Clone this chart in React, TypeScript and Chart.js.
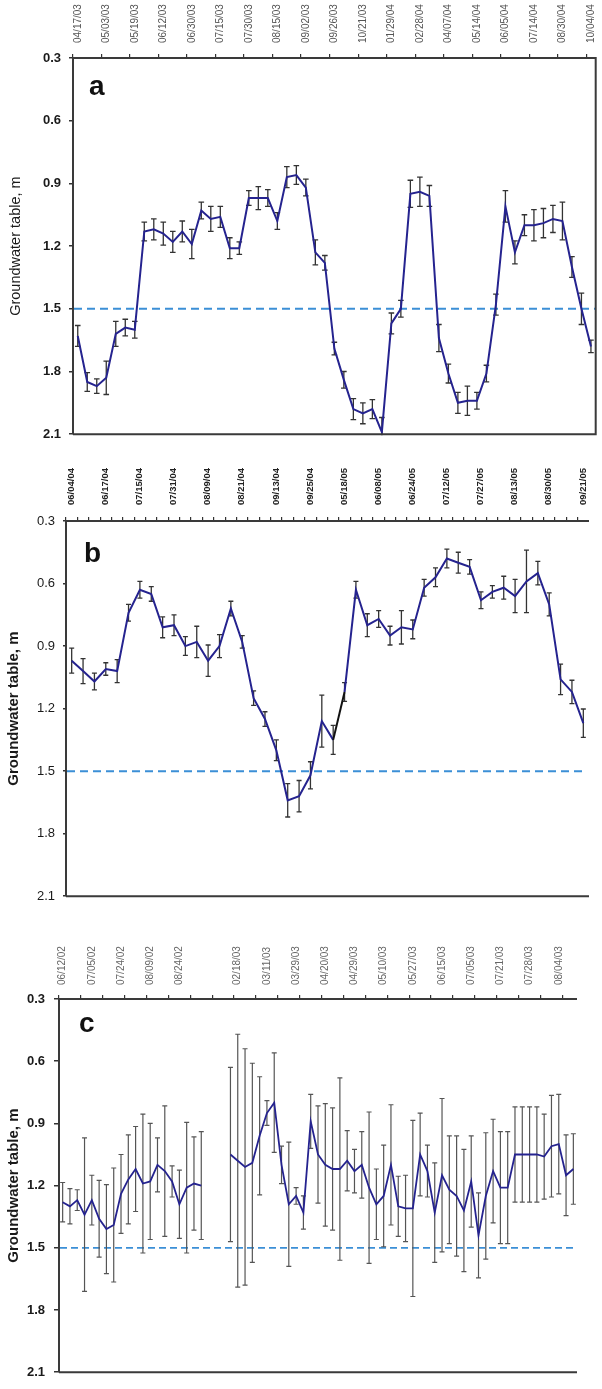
import React, { useEffect, useRef } from 'react';
import { Chart, registerables } from 'chart.js';
Chart.register(...registerables);

// ---------- Panel a ----------
const tickLabelsA = ['04/17/03', '05/03/03', '05/19/03', '06/12/03', '06/30/03', '07/15/03', '07/30/03', '08/15/03', '09/02/03', '09/26/03', '10/21/03', '01/29/04', '02/28/04', '04/07/04', '05/14/04', '06/05/04', '07/14/04', '08/30/04', '10/04/04'];
const depthA = [1.63, 1.85, 1.87, 1.83, 1.62, 1.59, 1.60, 1.13, 1.12, 1.14, 1.18, 1.13, 1.19, 1.03, 1.07, 1.06, 1.21, 1.21, 0.97, 0.97, 0.97, 1.08, 0.87, 0.86, 0.92, 1.23, 1.28, 1.69, 1.84, 1.98, 2.00, 1.98, 2.09, 1.57, 1.50, 0.95, 0.94, 0.96, 1.64, 1.81, 1.95, 1.94, 1.94, 1.81, 1.48, 1.01, 1.23, 1.10, 1.10, 1.09, 1.07, 1.08, 1.30, 1.50, 1.68];
const errA = [0.05, 0.045, 0.035, 0.08, 0.06, 0.04, 0.04, 0.045, 0.05, 0.055, 0.05, 0.05, 0.07, 0.04, 0.06, 0.05, 0.05, 0.03, 0.035, 0.055, 0.04, 0.04, 0.05, 0.045, 0.04, 0.06, 0.035, 0.03, 0.04, 0.05, 0.05, 0.045, 0.07, 0.05, 0.04, 0.065, 0.07, 0.05, 0.065, 0.045, 0.05, 0.07, 0.04, 0.04, 0.05, 0.075, 0.055, 0.05, 0.075, 0.07, 0.065, 0.09, 0.05, 0.075, 0.03];

// ---------- Panel b ----------
const tickLabelsB = ['06/04/04', '06/17/04', '07/15/04', '07/31/04', '08/09/04', '08/21/04', '09/13/04', '09/25/04', '05/18/05', '06/08/05', '06/24/05', '07/12/05', '07/27/05', '08/13/05', '08/30/05', '09/21/05'];
const depthB = [0.97, 1.02, 1.07, 1.01, 1.02, 0.74, 0.63, 0.65, 0.81, 0.80, 0.90, 0.88, 0.97, 0.90, 0.72, 0.88, 1.15, 1.25, 1.40, 1.64, 1.62, 1.52, 1.26, 1.35, 1.12, 0.63, 0.80, 0.77, 0.85, 0.81, 0.82, 0.62, 0.57, 0.48, 0.50, 0.52, 0.68, 0.64, 0.62, 0.66, 0.59, 0.55, 0.70, 1.06, 1.12, 1.27];
const errB = [0.06, 0.06, 0.04, 0.03, 0.055, 0.04, 0.04, 0.035, 0.05, 0.05, 0.045, 0.075, 0.075, 0.055, 0.035, 0.03, 0.035, 0.035, 0.05, 0.08, 0.075, 0.065, 0.125, 0.07, 0.045, 0.04, 0.055, 0.04, 0.045, 0.08, 0.045, 0.04, 0.045, 0.045, 0.05, 0.035, 0.04, 0.03, 0.055, 0.08, 0.15, 0.056, 0.055, 0.073, 0.056, 0.068];
const blackSegmentStartB = 23;

// ---------- Panel c ----------
const tickLabelsC = ['06/12/02', '07/05/02', '07/24/02', '08/09/02', '08/24/02', '', '02/18/03', '03/11/03', '03/29/03', '04/20/03', '04/29/03', '05/10/03', '05/27/03', '06/15/03', '07/05/03', '07/21/03', '07/28/03', '08/04/03'];
const depthC = [1.28, 1.30, 1.27, 1.34, 1.27, 1.36, 1.41, 1.39, 1.24, 1.17, 1.12, 1.19, 1.18, 1.10, 1.13, 1.18, 1.29, 1.21, 1.19, 1.20,
  null, null, null,
  1.05, 1.08, 1.11, 1.09, 0.96, 0.85, 0.80, 1.10, 1.29, 1.25, 1.33, 0.89, 1.05, 1.10, 1.12, 1.12, 1.08, 1.13, 1.10, 1.21, 1.29, 1.25, 1.10, 1.30, 1.31, 1.31, 1.05, 1.13, 1.33, 1.15, 1.22, 1.25, 1.32, 1.18, 1.44, 1.25, 1.13, 1.21, 1.21, 1.05, 1.05, 1.05, 1.05, 1.06, 1.01, 1.00, 1.15, 1.12];
const errC = [0.095, 0.085, 0.05, 0.37, 0.12, 0.185, 0.215, 0.275, 0.19, 0.215, 0.205, 0.335, 0.28, 0.13, 0.315, 0.075, 0.165, 0.315, 0.225, 0.26,
  null, null, null,
  0.42, 0.61, 0.57, 0.48, 0.285, 0.06, 0.24, 0.09, 0.30, 0.04, 0.08, 0.13, 0.235, 0.295, 0.295, 0.44, 0.145, 0.105, 0.16, 0.365, 0.17, 0.245, 0.29, 0.145, 0.16, 0.425, 0.20, 0.125, 0.24, 0.37, 0.26, 0.29, 0.295, 0.22, 0.205, 0.305, 0.25, 0.27, 0.27, 0.23, 0.23, 0.23, 0.23, 0.205, 0.245, 0.24, 0.195, 0.17];

// ---------- shared ----------
const yTickValues = [0.3, 0.6, 0.9, 1.2, 1.5, 1.8, 2.1];
const threshold = 1.5;
const yTitle = 'Groundwater table, m';

const FONT = '"Liberation Sans", Arial, Helvetica, sans-serif';
const NAVY = '#25238f';

type Spec = {
  letter: string;
  values: (number | null)[];
  errors: (number | null)[];
  tickLabels: string[];
  labelEvery: number;
  tickEvery: number;
  canvasTop: number;
  height: number;
  left: number;
  top: number;
  padRight: number;
  padBottom: number;
  rightBorder: boolean;
  dashEndInset: number;
  dashWidth: number;
  dash: number[];
  xFont: { size: number; weight: string };
  xColor: string;
  xPad: number;
  yFont: { size: number; weight: string };
  yTickLen: number;
  yPad: number;
  titleFont: { size: number; weight: string };
  titlePad: number;
  letterDx: number;
  letterDy: number;
  errColor: string;
  errWidth: number;
  cap: number;
  lineWidth: number;
  blackSeg?: number;
};

const specs: Spec[] = [
  {
    letter: 'a', values: depthA, errors: errA, tickLabels: tickLabelsA, labelEvery: 3, tickEvery: 3,
    canvasTop: 0, height: 450, left: 73, top: 58, padRight: 6, padBottom: 12, rightBorder: true,
    dashEndInset: 0, dashWidth: 2, dash: [8, 5],
    xFont: { size: 10, weight: 'normal' }, xColor: '#555', xPad: 11,
    yFont: { size: 13, weight: 'bold' }, yTickLen: 4, yPad: 8,
    titleFont: { size: 14.5, weight: 'normal' }, titlePad: 7,
    letterDx: 16, letterDy: 37, errColor: '#333', errWidth: 1.3, cap: 2.8, lineWidth: 2,
  },
  {
    letter: 'b', values: depthB, errors: errB, tickLabels: tickLabelsB, labelEvery: 3, tickEvery: 1,
    canvasTop: 450, height: 462, left: 66, top: 71, padRight: 13, padBottom: 10, rightBorder: false,
    dashEndInset: 7, dashWidth: 2, dash: [8, 5],
    xFont: { size: 9.5, weight: 'bold' }, xColor: '#222', xPad: 12,
    yFont: { size: 13, weight: 'normal' }, yTickLen: 3, yPad: 8,
    titleFont: { size: 15, weight: 'bold' }, titlePad: 5,
    letterDx: 18, letterDy: 41, errColor: '#333', errWidth: 1.3, cap: 2.5, lineWidth: 2,
    blackSeg: blackSegmentStartB,
  },
  {
    letter: 'c', values: depthC, errors: errC, tickLabels: tickLabelsC, labelEvery: 4, tickEvery: 3,
    canvasTop: 912, height: 477, left: 59, top: 87, padRight: 25, padBottom: 9, rightBorder: false,
    dashEndInset: 3, dashWidth: 1.8, dash: [7, 4],
    xFont: { size: 10, weight: 'normal' }, xColor: '#666', xPad: 10,
    yFont: { size: 13, weight: 'bold' }, yTickLen: 5, yPad: 9,
    titleFont: { size: 15, weight: 'bold' }, titlePad: 5,
    letterDx: 20, letterDy: 33, errColor: '#555', errWidth: 1.2, cap: 2.5, lineWidth: 1.8,
  },
];

function makeDecor(spec: Spec) {
  return {
    id: 'panelDecor',
    beforeDatasetsDraw(chart: any) {
      const { ctx, chartArea: ca, scales } = chart;
      const x = scales.x;
      const y = scales.y;
      // threshold line
      const ty = y.getPixelForValue(threshold);
      ctx.save();
      ctx.strokeStyle = '#3b8fd6';
      ctx.lineWidth = spec.dashWidth;
      ctx.setLineDash(spec.dash);
      ctx.beginPath();
      ctx.moveTo(ca.left + 1, ty);
      ctx.lineTo(ca.right - spec.dashEndInset, ty);
      ctx.stroke();
      ctx.restore();
      // error bars
      ctx.save();
      ctx.beginPath();
      ctx.rect(ca.left, ca.top, ca.right - ca.left, ca.bottom - ca.top + 1);
      ctx.clip();
      ctx.strokeStyle = spec.errColor;
      ctx.lineWidth = spec.errWidth;
      spec.values.forEach((v, i) => {
        const e = spec.errors[i];
        if (v == null || e == null) return;
        const px = x.getPixelForValue(i);
        const y1 = y.getPixelForValue(v - e);
        const y2 = y.getPixelForValue(v + e);
        ctx.beginPath();
        ctx.moveTo(px, y1);
        ctx.lineTo(px, y2);
        ctx.moveTo(px - spec.cap, y1);
        ctx.lineTo(px + spec.cap, y1);
        ctx.moveTo(px - spec.cap, y2);
        ctx.lineTo(px + spec.cap, y2);
        ctx.stroke();
      });
      ctx.restore();
    },
    afterDraw(chart: any) {
      const { ctx, chartArea: ca } = chart;
      ctx.save();
      ctx.strokeStyle = '#3a3a3a';
      ctx.lineWidth = 2;
      ctx.beginPath();
      ctx.moveTo(ca.left, ca.bottom);
      ctx.lineTo(ca.left, ca.top);
      ctx.lineTo(ca.right, ca.top);
      if (spec.rightBorder) {
        ctx.lineTo(ca.right, ca.bottom);
        ctx.lineTo(ca.left, ca.bottom);
      } else {
        ctx.moveTo(ca.left, ca.bottom);
        ctx.lineTo(ca.right, ca.bottom);
      }
      ctx.stroke();
      ctx.fillStyle = '#111';
      ctx.font = `bold 28px ${FONT}`;
      ctx.textAlign = 'left';
      ctx.textBaseline = 'alphabetic';
      ctx.fillText(spec.letter, ca.left + spec.letterDx, ca.top + spec.letterDy);
      ctx.restore();
    },
  };
}

function makeConfig(spec: Spec): any {
  const labels = spec.values.map((_, i) => String(i));
  return {
    type: 'line',
    data: {
      labels,
      datasets: [
        {
          data: spec.values,
          borderColor: NAVY,
          borderWidth: spec.lineWidth,
          pointRadius: 0,
          tension: 0,
          spanGaps: false,
          segment: spec.blackSeg != null
            ? { borderColor: (c: any) => (c.p0DataIndex === spec.blackSeg ? '#111' : undefined) }
            : undefined,
        },
      ],
    },
    options: {
      animation: false,
      responsive: false,
      maintainAspectRatio: false,
      events: [],
      layout: { padding: { left: 0, top: 0, right: spec.padRight, bottom: spec.padBottom } },
      plugins: { legend: { display: false }, tooltip: { enabled: false }, title: { display: false } },
      scales: {
        x: {
          type: 'category',
          position: 'top',
          offset: true,
          border: { display: false },
          grid: {
            offset: true,
            drawOnChartArea: false,
            drawTicks: true,
            tickLength: 4,
            lineWidth: 1.2,
            color: (c: any) => (typeof c.index === 'number' && c.index % spec.tickEvery === 0 ? '#333' : 'rgba(0,0,0,0)'),
          },
          ticks: {
            autoSkip: false,
            minRotation: 90,
            maxRotation: 90,
            padding: spec.xPad,
            labelOffset: Math.round(spec.xFont.size * 1.2),
            color: spec.xColor,
            font: { family: FONT, size: spec.xFont.size, weight: spec.xFont.weight },
            callback: (_v: any, i: number) => (i % spec.labelEvery === 0 ? (spec.tickLabels[i / spec.labelEvery] ?? '') : ''),
          },
          afterFit: (s: any) => { s.height = spec.top; },
        },
        y: {
          type: 'linear',
          position: 'left',
          reverse: true,
          min: 0.3,
          max: 2.1,
          border: { display: false },
          afterBuildTicks: (s: any) => { s.ticks = yTickValues.map((v) => ({ value: v })); },
          grid: { drawOnChartArea: false, drawTicks: true, tickLength: spec.yTickLen, color: '#333', lineWidth: 1.5 },
          ticks: {
            padding: spec.yPad,
            color: '#1a1a1a',
            font: { family: FONT, size: spec.yFont.size, weight: spec.yFont.weight },
            callback: (v: any) => Number(v).toFixed(1),
          },
          title: {
            display: true,
            text: yTitle,
            color: '#1a1a1a',
            font: { family: FONT, size: spec.titleFont.size, weight: spec.titleFont.weight },
            padding: { top: spec.titlePad, bottom: 0 },
          },
          afterFit: (s: any) => { s.width = spec.left; },
        },
      },
    },
    plugins: [makeDecor(spec)],
  };
}

function Panel({ spec }: { spec: Spec }) {
  const ref = useRef<HTMLCanvasElement | null>(null);
  useEffect(() => {
    if (!ref.current) return;
    const chart = new Chart(ref.current, makeConfig(spec));
    return () => chart.destroy();
  }, [spec]);
  return (
    <canvas
      ref={ref}
      width={602}
      height={spec.height}
      style={{ position: 'absolute', left: 0, top: spec.canvasTop, width: 602, height: spec.height, display: 'block' }}
    />
  );
}

export default function App() {
  return (
    <div style={{ position: 'absolute', left: 0, top: 0, width: 602, height: 1389, background: '#ffffff', overflow: 'hidden' }}>
      {specs.map((s) => (
        <Panel key={s.letter} spec={s} />
      ))}
    </div>
  );
}
